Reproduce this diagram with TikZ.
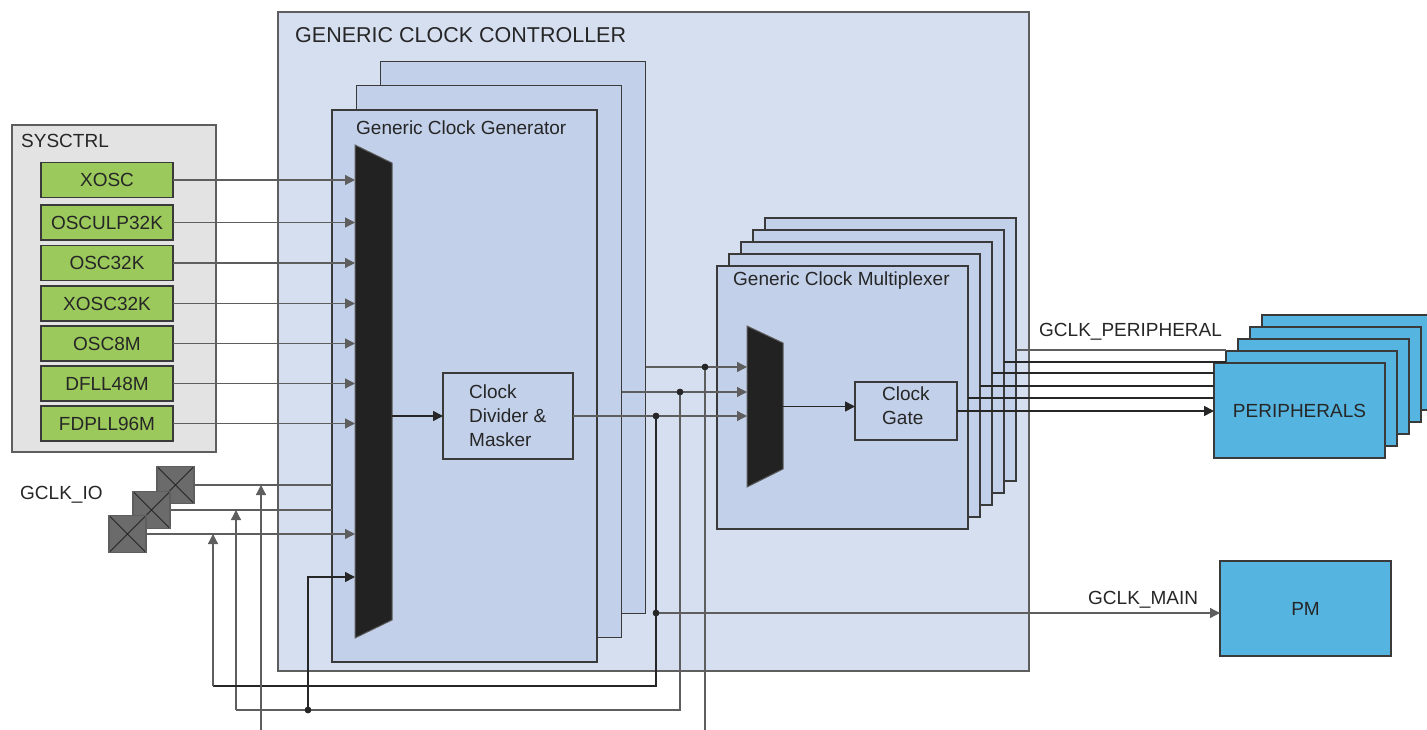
\documentclass[tikz,border=0pt]{standalone}
\usepackage{fontspec}
\setmainfont{Liberation Sans}
\usetikzlibrary{arrows.meta,calc}
\definecolor{ctrlfill}{HTML}{D6DFF0}
\definecolor{genfill}{HTML}{C2D0EA}
\definecolor{sysfill}{HTML}{E3E3E3}
\definecolor{oscfill}{HTML}{9BC95B}
\definecolor{perfill}{HTML}{55B5E0}
\definecolor{padfill}{HTML}{6B6B6B}
\definecolor{edge}{HTML}{3A3A3A}
\definecolor{wdark}{HTML}{262626}
\definecolor{wgray}{HTML}{5E5E5E}
\definecolor{muxfill}{HTML}{222222}
\definecolor{txt}{HTML}{262626}
\newcommand\fsz{\fontsize{19}{24}\selectfont}
\newcommand\fbig{\fontsize{21.5}{25}\selectfont}
\begin{document}
\begin{tikzpicture}[x=1pt,y=-1pt,
  blk/.style={draw=edge, line width=1.2pt, rectangle, inner sep=0pt, outer sep=0pt},
  gen/.style={blk, fill=genfill, minimum width=265pt, minimum height=552pt},
  muxbox/.style={blk, fill=genfill, minimum width=251pt, minimum height=263pt},
  perbox/.style={blk, fill=perfill, minimum width=171pt, minimum height=95pt, font=\fsz, text=txt},
  osc/.style={blk, fill=oscfill, minimum width=132pt, minimum height=35pt, font=\fsz, text=txt},
  pad/.style={blk, fill=padfill, draw=wgray, minimum size=37pt,
    path picture={\draw[wdark, line width=0.8pt]
      (path picture bounding box.south west) -- (path picture bounding box.north east)
      (path picture bounding box.north west) -- (path picture bounding box.south east);}},
  lbl/.style={inner sep=0pt, font=\fsz, text=txt},
  wire/.style={draw=wgray, line width=1.3pt},
  wired/.style={draw=wdark, line width=1.6pt},
  arr/.style={-{Triangle[length=10pt,width=10pt]}},
  jdot/.style={circle, fill=wdark, inner sep=0pt, minimum size=6.5pt},
  anchorbox/.style={rectangle, inner sep=0pt, outer sep=0pt},
]
\useasboundingbox (0,0) rectangle (1427,730);
\clip (0,0) rectangle (1427,730);

% ---------- SYSCTRL ----------
\node[blk, fill=sysfill, draw=wgray, minimum width=204pt, minimum height=327pt] (sys) at (114,288.5) {};
\node[lbl, anchor=west] (systxt) at (21,141) {SYSCTRL};
\node[osc] (xosc)    at (107,180)   {XOSC};
\node[osc] (osculp)  at (107,222.5) {OSCULP32K};
\node[osc] (osc32k)  at (107,263)   {OSC32K};
\node[osc] (xosc32k) at (107,303.5) {XOSC32K};
\node[osc] (osc8m)   at (107,343.5) {OSC8M};
\node[osc] (dfll)    at (107,383.5) {DFLL48M};
\node[osc] (fdpll)   at (107,423.5) {FDPLL96M};

% ---------- Generic clock controller ----------
\node[blk, fill=ctrlfill, draw=wgray, minimum width=751pt, minimum height=659pt] (ctrl) at (653.5,341.5) {};
\node[anchor=west, inner sep=0pt, font=\fbig, text=txt] (ctrltxt) at (295,35) {GENERIC CLOCK CONTROLLER};

\node[gen] (gen3) at (513,337.5) {};
\node[gen] (gen2) at (489,361.5) {};
\node[gen] (gen1) at (464.5,386) {};
\node[lbl, anchor=west] (gentxt) at (356,128) {Generic Clock Generator};

% multiplexer A
\node[anchorbox, minimum width=37pt, minimum height=493pt] (muxA) at (373.5,391.5) {};
\filldraw[fill=muxfill, draw=wgray, line width=1pt]
  (muxA.north west) -- ($(muxA.north east)+(0,18)$) -- ($(muxA.south east)+(0,-18)$) -- (muxA.south west) -- cycle;

% divider
\node[blk, fill=genfill, minimum width=130pt, minimum height=86pt] (div) at (508,416) {};
\node[lbl, anchor=west, align=left] (divtxt) at (469,416) {Clock\\Divider \&\\Masker};

% multiplexer stack
\node[muxbox] (mx5) at (890.5,349.5) {};
\node[muxbox] (mx4) at (878.5,361.5) {};
\node[muxbox] (mx3) at (866.5,373.5) {};
\node[muxbox] (mx2) at (854.5,385.5) {};
\node[muxbox] (mx1) at (842.5,397.5) {};
\node[lbl, anchor=west] (mxtxt) at (733,281) {Generic Clock Multiplexer};

\node[anchorbox, minimum width=36pt, minimum height=161pt] (muxB) at (765,406.5) {};
\filldraw[fill=muxfill, draw=wgray, line width=1pt]
  (muxB.north west) -- ($(muxB.north east)+(0,17)$) -- ($(muxB.south east)+(0,-18)$) -- (muxB.south west) -- cycle;

\node[blk, fill=genfill, minimum width=102pt, minimum height=58pt] (gate) at (906,411) {};
\node[lbl, anchor=west, align=left] (gatetxt) at (882,406) {Clock\\Gate};

% ---------- peripherals & PM ----------
\node[perbox] (per4) at (1347.5,362.5) {};
\node[perbox] (per3) at (1335.5,374.5) {};
\node[perbox] (per2) at (1323.5,386.5) {};
\node[perbox] (per1) at (1311.5,398.5) {};
\node[perbox] (per0) at (1299.5,410.5) {PERIPHERALS};
\node[perbox] (pm) at (1305.5,608.5) {PM};
\node[lbl, anchor=west] (gptxt) at (1039,332) {GCLK\_PERIPHERAL};
\node[lbl, anchor=west] (gmtxt) at (1088,600) {GCLK\_MAIN};

% ---------- pads ----------
\node[pad] (pad1) at (175.5,485) {};
\node[pad] (pad2) at (151.5,510) {};
\node[pad] (pad3) at (127.5,534) {};
\node[lbl, anchor=west] (iotxt) at (20,495) {GCLK\_IO};

% ---------- oscillator wires ----------
\foreach \n in {xosc,osculp,osc32k,xosc32k,osc8m,dfll,fdpll}
  \draw[wire, arr] (\n.east) -- (\n.east -| muxA.west);

% pad wires
\draw[wire] (pad1.east) -- (pad1.east -| gen1.west);
\draw[wire] (pad2.east) -- (pad2.east -| gen1.west);
\draw[wire, arr] (pad3.east) -- (pad3.east -| muxA.west);

% mux A -> divider
\draw[wired, arr] (muxA.east |- div.west) -- (div.west);

% generator outputs -> mux B
\coordinate (inA) at (muxB.west |- 0,367);
\coordinate (inB) at (muxB.west |- 0,392);
\draw[wire, arr] (gen3.east |- inA) -- (inA);
\draw[wire, arr] (gen2.east |- inB) -- (inB);
\draw[wire, arr] (div.east) -- (div.east -| muxB.west);

% junctions
\node[jdot] (dA) at (705,367) {};
\node[jdot] (dB) at (680,392) {};
\node[jdot] (dC) at (656,416) {};
\node[jdot] (dM) at (656,613) {};
\coordinate (bA) at (705,735);
\coordinate (bB) at (680,710);
\coordinate (bC) at (656,686);
\coordinate (fA) at (261,735);
\coordinate (fB) at (236,710);
\coordinate (fC) at (213,686);
\node[jdot] (dF) at (308,710) {};
\coordinate (inF) at (muxA.west |- 0,577);

% feedback loops
\draw[wire] (dA.center) -- (bA);
\draw[wire] (dB.center) -- (bB) -- (fB);
\draw[wire, arr] (fB) -- (fB |- pad2.east);
\draw[wired] (dC.center) -- (dM.center) -- (bC) -- (fC);
\draw[wire, arr] (fC) -- (fC |- pad3.east);
\draw[wire, arr] (fA) -- (fA |- pad1.east);
\draw[wired, arr] (dF.center) |- (inF);

% GCLK_MAIN
\draw[wire, arr] (dM.center) -- (dM.center -| pm.west);

% mux B -> gate
\draw[wired, arr] (muxB.east) -- (muxB.east -| gate.west);

% GCLK_PERIPHERAL lines
\draw[wired, arr] (gate.east) -- (gate.east -| per0.west);
\draw[wired] (mx1.east |- 0,398) -- (per0.west |- 0,398);
\draw[wired] (mx2.east |- 0,386) -- (per0.west |- 0,386);
\draw[wired] (mx3.east |- 0,373) -- (per0.west |- 0,373);
\draw[wired] (mx4.east |- 0,362) -- (per1.west |- 0,362);
\draw[wire]  (mx5.east |- 0,350) -- (per1.west |- 0,350);

% redraw dots on top
\node[jdot] at (dA) {};
\node[jdot] at (dB) {};
\node[jdot] at (dC) {};
\node[jdot] at (dM) {};
\node[jdot] at (dF) {};
\end{tikzpicture}
\end{document}
